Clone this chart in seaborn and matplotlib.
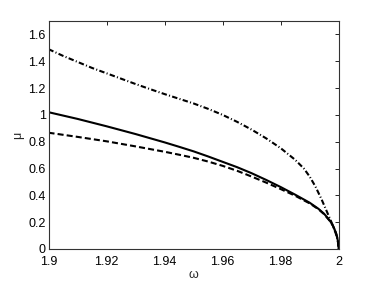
import numpy as np
import pandas as pd
import matplotlib
matplotlib.use("Agg")
import matplotlib.pyplot as plt
import seaborn as sns

# Data -----------------------------------------------------------------------
omega_solid = [1.900, 1.910, 1.920, 1.930, 1.940, 1.945, 1.950, 1.955, 1.960,
               1.965, 1.970, 1.975, 1.980, 1.985, 1.990, 1.993, 1.995, 1.997,
               1.998, 1.999, 1.9995, 1.9998, 2.0]
mu_solid = [1.02, 0.97, 0.915, 0.857, 0.795, 0.762, 0.728, 0.69, 0.65,
            0.61, 0.565, 0.515, 0.462, 0.405, 0.345, 0.30, 0.262, 0.21,
            0.175, 0.125, 0.085, 0.05, 0.0]

omega_dashed = [1.900, 1.910, 1.920, 1.930, 1.940, 1.945, 1.950, 1.955, 1.960,
                1.965, 1.970, 1.975, 1.980, 1.985, 1.990, 1.993, 1.995, 1.997,
                1.998, 1.999, 1.9995, 1.9998, 2.0]
mu_dashed = [0.867, 0.836, 0.803, 0.765, 0.725, 0.703, 0.68, 0.652, 0.62,
             0.583, 0.54, 0.495, 0.447, 0.397, 0.34, 0.297, 0.259, 0.208,
             0.173, 0.124, 0.084, 0.05, 0.0]

omega_dashdot = [1.900, 1.905, 1.910, 1.915, 1.920, 1.925, 1.930, 1.935, 1.940,
                 1.945, 1.950, 1.955, 1.960, 1.965, 1.970, 1.975, 1.980, 1.985,
                 1.988, 1.990, 1.992, 1.994, 1.996, 1.998, 1.999, 1.9997, 2.0]
mu_dashdot = [1.49, 1.44, 1.395, 1.35, 1.31, 1.27, 1.23, 1.192, 1.155,
              1.12, 1.085, 1.045, 1.0, 0.948, 0.89, 0.825, 0.752, 0.665,
              0.60, 0.54, 0.465, 0.375, 0.275, 0.175, 0.115, 0.06, 0.0]

x_ticks = [1.9, 1.92, 1.94, 1.96, 1.98, 2.0]
y_ticks = [0, 0.2, 0.4, 0.6, 0.8, 1.0, 1.2, 1.4, 1.6]


def main():
    sns.set_style("white")
    plt.rcParams['font.family'] = ['Liberation Sans', 'DejaVu Sans']

    fig = plt.figure(figsize=(3.74, 2.81), dpi=100)
    ax = fig.add_axes([0.1297, 0.1139, 0.7759, 0.8114])

    # Three curves ============================================================
    sns.lineplot(x=omega_solid, y=mu_solid, ax=ax, color='k', lw=1.5,
                 linestyle='-', estimator=None, sort=False)
    sns.lineplot(x=omega_dashed, y=mu_dashed, ax=ax, color='k', lw=1.5,
                 linestyle=(0, (2.9, 1.5)), estimator=None, sort=False)
    sns.lineplot(x=omega_dashdot, y=mu_dashdot, ax=ax, color='k', lw=1.5,
                 linestyle=(0, (2.6, 1.1, 0.5, 1.1)), estimator=None, sort=False)

    # Axes styling (MATLAB box look) =========================================
    ax.set_xlim(1.9, 2.0)
    ax.set_ylim(0, 1.7)
    ax.set_xticks(x_ticks)
    ax.set_yticks(y_ticks)
    ax.set_xticklabels(['%g' % t for t in x_ticks])
    ax.set_yticklabels(['%g' % t for t in y_ticks])
    ax.tick_params(direction='in', length=3, width=0.6, labelsize=9,
                   top=True, right=True, colors='k')
    ax.tick_params(axis='x', pad=5)
    ax.tick_params(axis='y', pad=2)
    for side in ax.spines.values():
        side.set_visible(True)
        side.set_color('#333333')
        side.set_linewidth(0.8)

    ax.set_xlabel('ω', fontsize=9, labelpad=1)
    ax.set_ylabel('μ', fontsize=9, labelpad=3)

    fig.savefig('out.png', dpi=100)


main()
